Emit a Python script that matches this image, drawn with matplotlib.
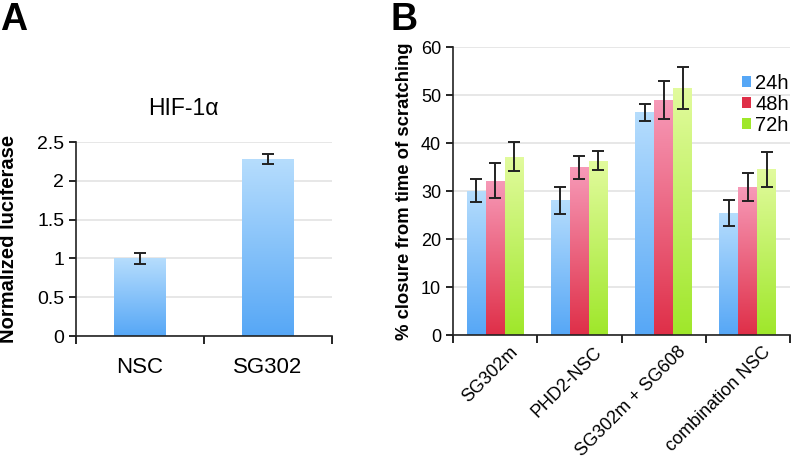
"""Luciferase reporter and scratch-closure bar charts (panels A and B)."""

import numpy as np
import matplotlib
matplotlib.use("Agg")
import matplotlib.pyplot as plt
from matplotlib.colors import LinearSegmentedColormap
from matplotlib.ticker import MultipleLocator
from matplotlib.transforms import ScaledTranslation

plt.rcParams["font.family"] = ["Liberation Sans", "DejaVu Sans"]

# panel A data
lucif_groups = ["NSC", "SG302"]
lucif_values = [1.0, 2.28]
lucif_errors = [0.07, 0.06]

# panel B data
closure_groups = ["SG302m", "PHD2-NSC", "SG302m + SG608", "combination NSC"]
closure_times = ["24h", "48h", "72h"]
closure_24h = [30.1, 28.1, 46.4, 25.5]
closure_48h = [32.2, 35.0, 49.0, 30.8]
closure_72h = [37.2, 36.3, 51.5, 34.5]
closure_24h_err = [2.4, 2.8, 1.8, 2.7]
closure_48h_err = [3.6, 2.4, 4.0, 2.9]
closure_72h_err = [3.1, 2.0, 4.4, 3.6]

# (top, bottom) gradient colours
BLUE = ("#b6ddfd", "#56a7f6")
RED = ("#f79ab8", "#df2f48")
GREEN = ("#e2fb9e", "#9fe72a")


def shade_bars(ax, bars, colors):
    top, bottom = colors
    cmap = LinearSegmentedColormap.from_list("grad", [bottom, top])
    grad = np.linspace(0, 1, 256).reshape(-1, 1)
    for b in bars:
        x, y = b.get_x(), b.get_y()
        w, h = b.get_width(), b.get_height()
        im = ax.imshow(grad, cmap=cmap, origin="lower", aspect="auto",
                       extent=(x, x + w, y, y + h), zorder=2.1)
        im.set_clip_path(b)


def style_axes(ax, n_groups, ymax, ystep, ytick_size):
    ax.set_xlim(-0.5, n_groups - 0.5)
    ax.set_ylim(0, ymax)
    ax.yaxis.set_major_locator(MultipleLocator(ystep))
    ax.set_xticks(range(n_groups))
    ax.set_xticks(np.arange(-0.5, n_groups), minor=True)
    ax.tick_params(axis="x", which="major", length=0)
    ax.tick_params(axis="x", which="minor", length=6, width=1.2, direction="out")
    ax.tick_params(axis="y", length=5, width=1.2, direction="out",
                   labelsize=ytick_size)
    ax.yaxis.grid(True, color="#e3e3e3", linewidth=1.2)
    ax.set_axisbelow(True)
    for side in ("top", "right"):
        ax.spines[side].set_visible(False)
    for side in ("left", "bottom"):
        ax.spines[side].set_color("#222222")
        ax.spines[side].set_linewidth(1.2)


fig = plt.figure(figsize=(7.92, 4.71), dpi=100)

# ---- panel A ----
axA = fig.add_axes([0.096, 0.2866, 0.323, 0.4119])
xa = np.arange(len(lucif_groups))
barsA = axA.bar(xa, lucif_values, width=0.40, color=BLUE[1], zorder=2)
shade_bars(axA, barsA, BLUE)
axA.errorbar(xa, lucif_values, yerr=lucif_errors, fmt="none", ecolor="#222222",
             elinewidth=1.4, capsize=4, capthick=1.4, zorder=3)
style_axes(axA, len(lucif_groups), 2.5, 0.5, 14)
axA.yaxis.set_major_formatter(lambda v, p: f"{v:g}")
axA.set_xticklabels(lucif_groups, fontsize=16)
axA.tick_params(axis="x", which="major", pad=15)
axA.set_ylabel("Normalized luciferase", fontsize=14.5, fontweight="bold")
axA.yaxis.set_label_coords(-0.228, 0.5)
axA.text(0.418, 1.175, "HIF-1\u03b1", transform=axA.transAxes, ha="center",
         va="center", fontsize=16.5)

# ---- panel B ----
axB = fig.add_axes([0.572, 0.2887, 0.4255, 0.6113])
xb = np.arange(len(closure_groups))
bw = 0.225
series = [
    (closure_24h, closure_24h_err, BLUE),
    (closure_48h, closure_48h_err, RED),
    (closure_72h, closure_72h_err, GREEN),
]
handles = []
for i, (vals, errs, cols) in enumerate(series):
    pos = xb + (i - 1) * bw
    bars = axB.bar(pos, vals, width=bw, color=cols[1], zorder=2)
    shade_bars(axB, bars, cols)
    axB.errorbar(pos, vals, yerr=errs, fmt="none", ecolor="#222222",
                 elinewidth=1.4, capsize=4, capthick=1.4, zorder=3)
    handles.append(bars)
style_axes(axB, len(closure_groups), 60, 10, 13)
axB.set_xticklabels(closure_groups, fontsize=13, rotation=45, ha="right",
                    va="top", rotation_mode="anchor")
axB.tick_params(axis="x", which="major", pad=6)
shift = ScaledTranslation(0.14, 0, fig.dpi_scale_trans)
for lbl in axB.get_xticklabels():
    lbl.set_transform(lbl.get_transform() + shift)
axB.set_ylabel("% closure from time of scratching", fontsize=13.3,
               fontweight="bold")
axB.yaxis.set_label_coords(-0.118, 0.5)
leg = axB.legend(handles, closure_times, loc="upper right",
                 bbox_to_anchor=(1.02, 0.935), frameon=False, fontsize=14.5,
                 handlelength=0.45, handleheight=0.45, handletextpad=0.2,
                 labelspacing=0.1, borderaxespad=0)

fig.text(0.0, 0.995, "A", fontsize=27, fontweight="bold", ha="left", va="top")
fig.text(0.493, 0.995, "B", fontsize=27, fontweight="bold", ha="left", va="top")

fig.savefig("out.png", dpi=100)
